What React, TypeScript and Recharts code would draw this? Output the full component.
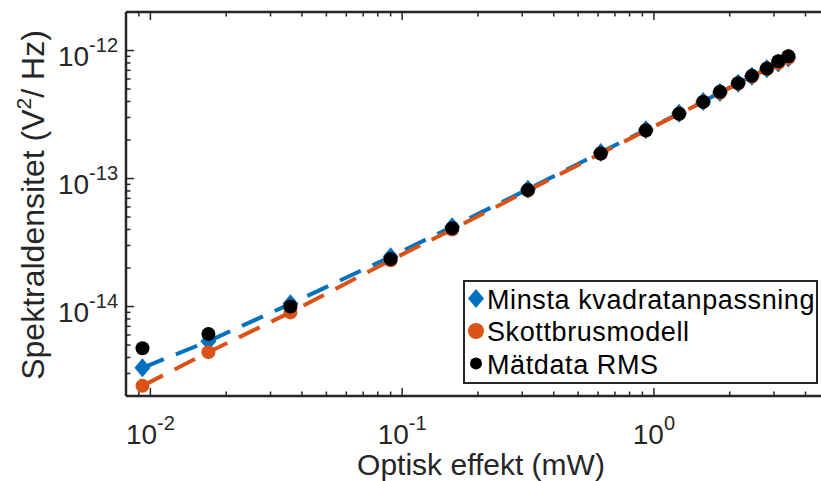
import React from "react";
import { ComposedChart, Line, XAxis, YAxis, Legend } from "recharts";

// optical power (mW) and spectral density (V^2/Hz)
const power = [0.0093, 0.017, 0.036, 0.09, 0.158, 0.316, 0.615, 0.929, 1.26, 1.57, 1.83, 2.16, 2.45, 2.81, 3.12, 3.42];
const leastSquares = [3.32e-15, 5.36e-15, 1.05e-14, 2.45e-14, 4.2e-14, 8.25e-14, 1.6e-13, 2.4e-13, 3.23e-13, 4.0e-13, 4.7e-13, 5.55e-13, 6.3e-13, 7.2e-13, 8.0e-13, 8.75e-13];
const shotNoise = [2.4e-15, 4.4e-15, 9.0e-15, 2.3e-14, 4.0e-14, 8.05e-14, 1.57e-13, 2.37e-13, 3.2e-13, 3.98e-13, 4.68e-13, 5.52e-13, 6.27e-13, 7.18e-13, 7.97e-13, 8.72e-13];
const measured = [4.72e-15, 6.11e-15, 1.0e-14, 2.35e-14, 4.08e-14, 8.15e-14, 1.57e-13, 2.38e-13, 3.21e-13, 3.97e-13, 4.76e-13, 5.56e-13, 6.34e-13, 7.24e-13, 8.25e-13, 9.03e-13];

const seriesNames = ["Minsta kvadratanpassning", "Skottbrusmodell", "Mätdata RMS"];

const xDomain = [0.008, 4.61];
const yDomain = [2e-15, 2e-12];
const xDecades = [-3, -2, -1, 0];
const yDecades = [-15, -14, -13, -12];
const mantissas = [1, 2, 3, 4, 5, 6, 7, 8, 9];

const logTicks = (decades: number[], dom: number[]) =>
  decades
    .flatMap((e) => mantissas.map((m) => Number((m * Math.pow(10, e)).toPrecision(3))))
    .filter((v) => v >= dom[0] && v <= dom[1]);

const xTicks = logTicks(xDecades, xDomain);
const yTicks = logTicks(yDecades, yDomain);

const rows = power.map((p, i) => ({
  p,
  fit: leastSquares[i],
  shot: shotNoise[i],
  meas: measured[i],
}));

const BLUE = "#0072BD";
const ORANGE = "#D95319";
const AX = "#262626";
const FONT = "'Liberation Sans', Arial, Helvetica, sans-serif";

const isMajor = (v: number) => Math.abs(Math.log10(v) - Math.round(Math.log10(v))) < 1e-6;
const expOf = (v: number) => String(Math.round(Math.log10(v)));

function BottomTick({ x, y, payload }: any) {
  const v = payload.value;
  const major = isMajor(v);
  return (
    <g>
      <line x1={x} x2={x} y1={y} y2={y - (major ? 8 : 4.5)} stroke={AX} strokeWidth={1.5} />
      {major && (
        <text x={x} y={y + 48} textAnchor="middle" fontSize={28} fill={AX} fontFamily={FONT}>
          10<tspan dy={-14} fontSize={20}>{expOf(v)}</tspan>
        </text>
      )}
    </g>
  );
}

function TopTick({ x, y, payload }: any) {
  const major = isMajor(payload.value);
  return <line x1={x} x2={x} y1={y} y2={y + (major ? 8 : 4.5)} stroke={AX} strokeWidth={1.5} />;
}

function LeftTick({ x, y, payload }: any) {
  const v = payload.value;
  const major = isMajor(v);
  return (
    <g>
      <line x1={x} x2={x + (major ? 8 : 4.5)} y1={y} y2={y} stroke={AX} strokeWidth={1.5} />
      {major && (
        <text x={x - 8} y={y + 15} textAnchor="end" fontSize={28} fill={AX} fontFamily={FONT}>
          10<tspan dy={-14} fontSize={20}>{expOf(v)}</tspan>
        </text>
      )}
    </g>
  );
}

const Diamond = ({ cx, cy, color }: any) => (
  <polygon points={`${cx},${cy - 9.5} ${cx + 8},${cy} ${cx},${cy + 9.5} ${cx - 8},${cy}`} fill={color} />
);
const Dot = ({ cx, cy, color, r }: any) => <circle cx={cx} cy={cy} r={r} fill={color} />;

function XTitle() {
  return (
    <text x={481} y={475} textAnchor="middle" fontSize={30} fill={AX} fontFamily={FONT}>
      Optisk effekt (mW)
    </text>
  );
}

function YTitle() {
  return (
    <text x={44} y={205} transform="rotate(-90 44 205)" textAnchor="middle" fontSize={32} fill={AX} fontFamily={FONT}>
      Spektraldensitet (V<tspan dy={-13} fontSize={21}>2</tspan>
      <tspan dy={13}>/ Hz)</tspan>
    </text>
  );
}

function LegendBox() {
  const markers = [
    (cx: number, cy: number) => <Diamond cx={cx} cy={cy} color={BLUE} />,
    (cx: number, cy: number) => <Dot cx={cx} cy={cy} r={8} color={ORANGE} />,
    (cx: number, cy: number) => <Dot cx={cx} cy={cy} r={6} color="#000" />,
  ];
  return (
    <svg width={355} height={104} style={{ display: "block" }}>
      <rect x={1} y={1} width={353} height={102} fill="#fff" stroke={AX} strokeWidth={2} />
      {seriesNames.map((name, i) => {
        const base = 28.5 + i * 32.5;
        return (
          <g key={name}>
            {markers[i](13, base - 10)}
            <text x={24} y={base} fontSize={27} letterSpacing={0.6} fill="#000" fontFamily={FONT}>
              {name}
            </text>
          </g>
        );
      })}
    </svg>
  );
}

export default function App() {
  return (
    <div style={{ position: "absolute", left: 0, top: 0, width: 821, height: 481, overflow: "hidden", background: "#fff" }}>
      <ComposedChart width={821} height={481} data={rows} margin={{ top: 0, right: 0, bottom: 0, left: 0 }}>
        <XAxis
          dataKey="p"
          type="number"
          scale="log"
          domain={xDomain}
          allowDataOverflow
          ticks={xTicks}
          interval={0}
          height={85}
          tickSize={0}
          tickMargin={0}
          tick={<BottomTick />}
          axisLine={{ stroke: AX, strokeWidth: 2.5 }}
          label={<XTitle />}
        />
        <XAxis
          xAxisId="top"
          orientation="top"
          dataKey="p"
          type="number"
          scale="log"
          domain={xDomain}
          allowDataOverflow
          ticks={xTicks}
          interval={0}
          height={12}
          tickSize={0}
          tickMargin={0}
          tick={<TopTick />}
          axisLine={{ stroke: AX, strokeWidth: 2.5 }}
        />
        <YAxis
          type="number"
          scale="log"
          domain={yDomain}
          allowDataOverflow
          ticks={yTicks}
          interval={0}
          width={126}
          tickSize={0}
          tickMargin={0}
          tick={<LeftTick />}
          axisLine={{ stroke: AX, strokeWidth: 2.5 }}
          label={<YTitle />}
        />
        <Line
          dataKey="fit"
          name={seriesNames[0]}
          stroke={BLUE}
          strokeWidth={4}
          strokeDasharray="23 13"
          dot={(p: any) => <Diamond key={`f${p.index}`} cx={p.cx} cy={p.cy} color={BLUE} />}
          isAnimationActive={false}
        />
        <Line
          dataKey="shot"
          name={seriesNames[1]}
          stroke={ORANGE}
          strokeWidth={4}
          strokeDasharray="23 13"
          dot={(p: any) => <Dot key={`s${p.index}`} cx={p.cx} cy={p.cy} r={7} color={ORANGE} />}
          isAnimationActive={false}
        />
        <Line
          dataKey="meas"
          name={seriesNames[2]}
          stroke="none"
          strokeWidth={0}
          dot={(p: any) => <Dot key={`m${p.index}`} cx={p.cx} cy={p.cy} r={7} color="#000" />}
          isAnimationActive={false}
        />
        <Legend
          layout="horizontal"
          verticalAlign="middle"
          align="center"
          content={<LegendBox />}
          wrapperStyle={{ left: 463, top: 280, width: 355, height: 104 }}
        />
      </ComposedChart>
    </div>
  );
}
